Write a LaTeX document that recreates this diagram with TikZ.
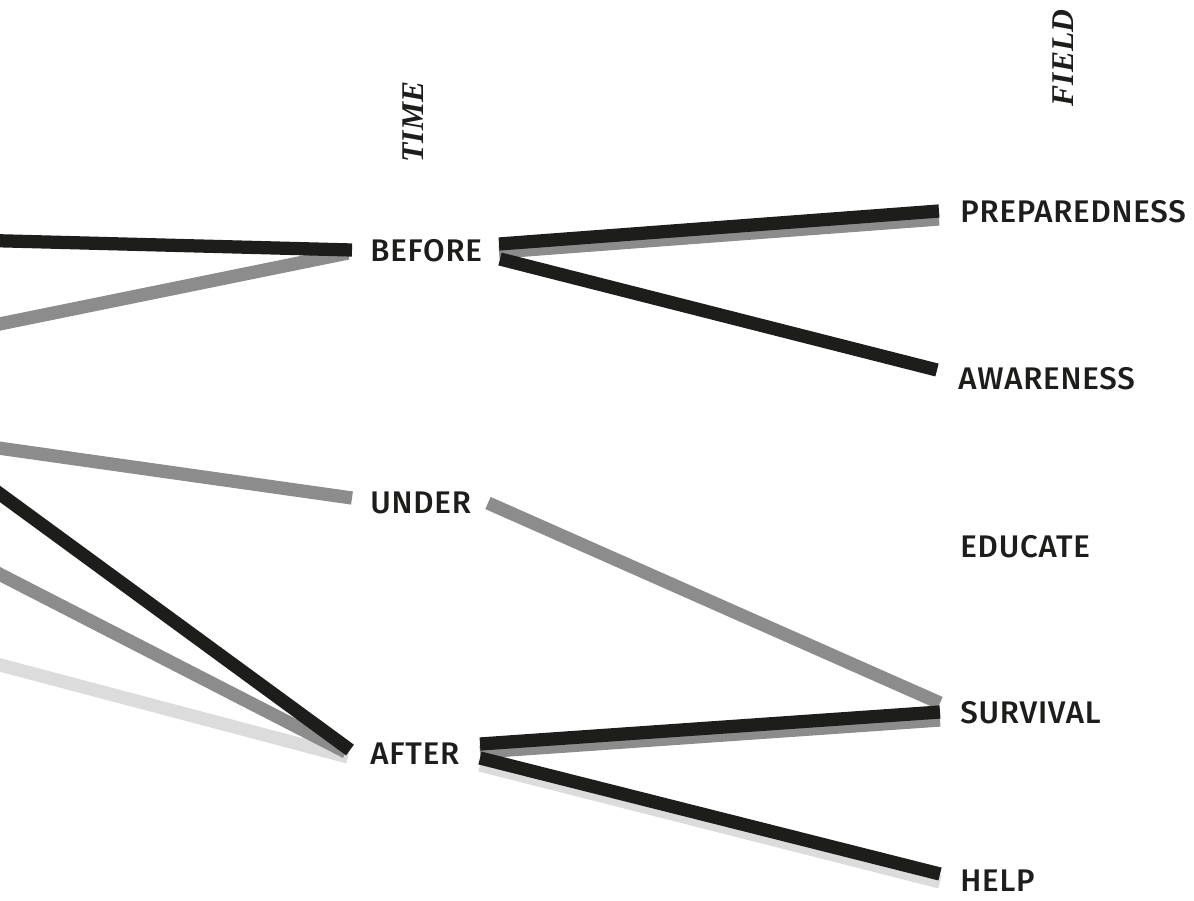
\documentclass[tikz,border=0pt]{standalone}
\usepackage{fontspec}
\setmainfont{Fira Sans}[UprightFont=* Medium,LetterSpace=2.5]
\newfontfamily\axisfont{Liberation Serif}
\usetikzlibrary{positioning}
\definecolor{ink}{HTML}{1D1D1B}
\definecolor{midgray}{HTML}{8C8C8C}
\definecolor{palegray}{HTML}{DCDCDC}
\tikzset{
  lbl/.style={anchor=base west,inner sep=0pt,text=ink,font=\fontsize{17.8}{20}\selectfont},
  axis/.style={rotate=90,inner sep=0pt,text=ink,font=\axisfont\bfseries\itshape\fontsize{18}{20}\selectfont},
  band/.style={line width=0.265cm,line cap=butt},
}
\begin{document}
\begin{tikzpicture}[x=0.02cm,y=-0.02cm]
\useasboundingbox (0,0) rectangle (1194,900);
\clip (0,0) rectangle (1194,900);
% axis titles
\node[axis] (time) at (413,122) {TIME};
\node[axis] (field) at (1063,58) {FIELD};
% time column
\node[lbl] (before) at (370,261) {BEFORE};
\node[lbl] (under) at (370,513) {UNDER};
\node[lbl] (after) at (370,764) {AFTER};
% field column
\node[lbl] (prep) at (960,222) {PREPAREDNESS};
\node[lbl] (aware) at (958,389) {AWARENESS};
\node[lbl] (educ) at (960,557) {EDUCATE};
\node[lbl] (surv) at (960,723) {SURVIVAL};
\node[lbl] (help) at (960,891) {HELP};
% ports
\coordinate (in1) at (-30,240); \coordinate (in2) at (-30,330); \coordinate (in3) at (-30,444);
\coordinate (in4) at (-30,472); \coordinate (in5) at (-30,559); \coordinate (in6) at (-30,657);
\coordinate (before-w) at (352,250); \coordinate (before-w2) at (348,253);
\coordinate (under-w) at (352,498); \coordinate (after-w) at (350,750);
\coordinate (after-w2) at (346,752); \coordinate (after-w3) at (348,757);
\coordinate (before-e) at (499,244); \coordinate (before-e2) at (499,252); \coordinate (before-e3) at (500,259);
\coordinate (under-e) at (488,503);
\coordinate (after-e) at (480,744); \coordinate (after-e2) at (480,752);
\coordinate (after-e3) at (480,758); \coordinate (after-e4) at (480,765);
\coordinate (prep-w) at (939,211); \coordinate (prep-w2) at (939,219);
\coordinate (aware-w) at (937,370);
\coordinate (surv-w) at (940,703); \coordinate (surv-w2) at (940,712); \coordinate (surv-w3) at (940,720);
\coordinate (help-w) at (940,874); \coordinate (help-w2) at (940,882);
% pale bands
\draw[band,palegray] (in6)--(after-w3); \draw[band,palegray] (after-e4)--(help-w2);
% gray bands
\draw[band,midgray] (in2)--(before-w2); \draw[band,midgray] (in3)--(under-w); \draw[band,midgray] (in5)--(after-w2);
\draw[band,midgray] (before-e2)--(prep-w2); \draw[band,midgray] (under-e)--(surv-w); \draw[band,midgray] (after-e2)--(surv-w3);
% black bands
\draw[band,ink] (in1)--(before-w); \draw[band,ink] (in4)--(after-w);
\draw[band,ink] (before-e)--(prep-w); \draw[band,ink] (before-e3)--(aware-w);
\draw[band,ink] (after-e)--(surv-w2); \draw[band,ink] (after-e3)--(help-w);
\end{tikzpicture}
\end{document}
